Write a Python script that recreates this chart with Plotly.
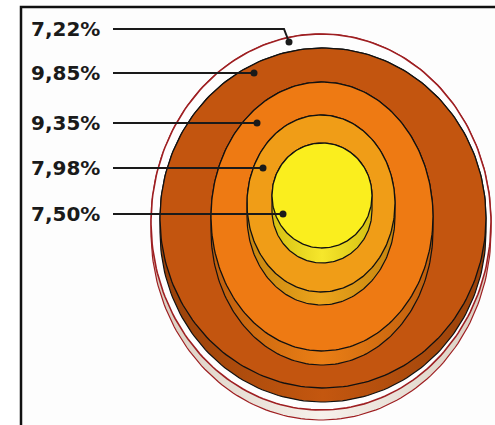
import numpy as np
import plotly.graph_objects as go

# Shares shown on the stacked disks, outermost ring first
values = [7.22, 9.85, 9.35, 7.98, 7.50]
labels = [f"{v:.2f}".replace(".", ",") + "%" for v in values]

# Disk geometry (pixel space): centre x, centre y, radius x, radius y, wall height
disk_cx = [321, 323, 322, 321, 322]
disk_cy = [222, 218, 216.5, 203.5, 195.5]
disk_rx = [170, 163, 111, 74, 50]
disk_ry = [188, 170, 134.5, 88.5, 52.5]
disk_h = [10, 14, 14, 13, 15]

# Colours: top face, wall edge shade, wall middle shade, outline
top_col = ["#FEFEFE", "#C3550F", "#EE7A13", "#F09D17", "#FAEE1E"]
wall_dark = ["#D9CDBF", "#98410A", "#BE5E0D", "#C7850F", "#D6C012"]
wall_light = ["#F6F1EB", "#C4570F", "#EA7E15", "#EBA41C", "#F6E72C"]
edge_col = ["#9E1F22", "#111111", "#111111", "#111111", "#111111"]

# Leader line anchors: label row y and the dot on each disk
label_y = [29, 73, 123, 168, 214]
dot_x = [289, 254, 257, 263, 283]
dot_y = [42, 73, 123, 168, 214]
elbow_x = [284, None, None, None, None]

fig = go.Figure()

t_low = np.linspace(0, np.pi, 120)
t_up = np.linspace(np.pi, 2 * np.pi, 120)
t_all = np.linspace(0, 2 * np.pi, 240)

for i in range(len(values)):
    cx, cy, rx, ry, h = disk_cx[i], disk_cy[i], disk_rx[i], disk_ry[i], disk_h[i]
    # side wall: lower half of the shifted ellipse joined to the upper half of the top face
    wx = np.concatenate([cx + rx * np.cos(t_low), cx + rx * np.cos(t_up)])
    wy = np.concatenate([cy + h + ry * np.sin(t_low), cy + ry * np.sin(t_up)])
    fig.add_trace(go.Scatter(
        x=np.append(wx, wx[0]), y=np.append(wy, wy[0]),
        mode="lines", fill="toself",
        line=dict(color=edge_col[i], width=1.2),
        fillgradient=dict(type="horizontal",
                          colorscale=[[0, wall_dark[i]], [0.5, wall_light[i]], [1, wall_dark[i]]]),
        hoverinfo="skip", showlegend=False))
    # top face
    fig.add_trace(go.Scatter(
        x=cx + rx * np.cos(t_all), y=cy + ry * np.sin(t_all),
        mode="lines", fill="toself", fillcolor=top_col[i],
        line=dict(color=edge_col[i], width=1.3 if i else 1.6),
        hoverinfo="skip", showlegend=False))

# leader lines and dots
for i in range(len(values)):
    xs = [113]
    ys = [label_y[i]]
    if elbow_x[i] is not None:
        xs.append(elbow_x[i])
        ys.append(label_y[i])
    xs.append(dot_x[i])
    ys.append(dot_y[i])
    fig.add_trace(go.Scatter(
        x=xs, y=ys, mode="lines",
        line=dict(color="#1a1a1a", width=2),
        hoverinfo="skip", showlegend=False))
fig.add_trace(go.Scatter(
    x=dot_x, y=dot_y, mode="markers",
    marker=dict(color="#1a1a1a", size=7),
    hoverinfo="skip", showlegend=False))

for i, lab in enumerate(labels):
    fig.add_annotation(
        x=102, y=label_y[i], text=lab, showarrow=False,
        xanchor="right", yanchor="middle",
        font=dict(family="DejaVu Sans", size=20, color="#1a1a1a", weight="bold"))

# frame around the drawing area
fig.add_shape(type="rect", x0=21, y0=7, x1=530, y1=460,
              line=dict(color="#111111", width=2.5),
              fillcolor="#FDFDFD", layer="below")

fig.update_layout(
    width=495, height=425,
    margin=dict(l=0, r=0, t=0, b=0),
    paper_bgcolor="white", plot_bgcolor="white",
    xaxis=dict(range=[0, 495], visible=False, fixedrange=True),
    yaxis=dict(range=[425, 0], visible=False, fixedrange=True),
)

fig.write_html("out.html")
